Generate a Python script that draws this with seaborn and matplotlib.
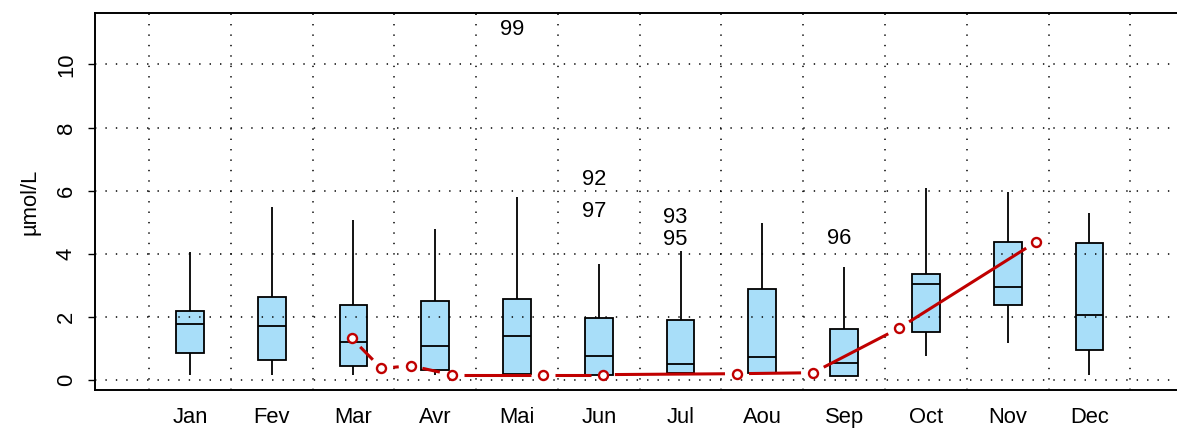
import numpy as np
import pandas as pd
import matplotlib
matplotlib.use("Agg")
import matplotlib.pyplot as plt
import seaborn as sns

# ---------------- data ----------------
months = ["Jan", "Fev", "Mar", "Avr", "Mai", "Jun", "Jul", "Aou", "Sep", "Oct", "Nov", "Dec"]
whisker_low = [0.16, 0.16, 0.16, 0.16, 0.18, 0.16, 0.21, 0.23, 0.14, 0.77, 1.17, 0.17]
q1 = [0.87, 0.64, 0.43, 0.32, 0.18, 0.16, 0.21, 0.23, 0.14, 1.52, 2.38, 0.96]
median = [1.79, 1.72, 1.20, 1.08, 1.40, 0.77, 0.50, 0.74, 0.53, 3.05, 2.96, 2.06]
q3 = [2.18, 2.64, 2.39, 2.49, 2.56, 1.95, 1.89, 2.89, 1.62, 3.37, 4.38, 4.35]
whisker_high = [4.07, 5.47, 5.07, 4.78, 5.79, 3.68, 4.09, 4.98, 3.57, 6.07, 5.96, 5.30]

outlier_month = ["Mai", "Jun", "Jun", "Jul", "Jul", "Sep"]
outlier_value = [11.10, 6.35, 5.33, 5.14, 4.44, 4.47]
outlier_label = ["99", "92", "97", "93", "95", "96"]

trend_pos = [1.98, 2.34, 2.70, 3.20, 4.32, 5.05, 6.69, 7.62, 8.67, 10.35]
trend_value = [1.32, 0.37, 0.45, 0.17, 0.17, 0.17, 0.20, 0.23, 1.64, 4.38]

y_ticks = [0, 2, 4, 6, 8, 10]
y_label = "µmol/L"

# five-number summaries as rows (whis=(0,100) reproduces them exactly)
rows = []
for m, a, b, c, d, e in zip(months, whisker_low, q1, median, q3, whisker_high):
    for v in (a, b, c, d, e):
        rows.append({"month": m, "value": v})
df = pd.DataFrame(rows)

# ---------------- style ----------------
sns.set_theme(style="white")
plt.rcParams["font.family"] = ["Liberation Sans", "DejaVu Sans"]
plt.rcParams["lines.scale_dashes"] = False

W, H = 1177, 429
fig = plt.figure(figsize=(W / 100, H / 100), dpi=100)
ax = fig.add_axes([95 / W, 1 - 390 / H, (W - 95) / W, (390 - 13) / H])

red = "#C00000"
box_fill = "#A8DEF9"

sns.boxplot(data=df, x="month", y="value", order=months, ax=ax,
            width=0.34, color=box_fill, saturation=1, whis=(0, 100),
            showcaps=False, showfliers=False, linecolor="black", linewidth=1.3)

# ticks and grid (grid drawn over the boxes, as in the reference)
ax.set_axisbelow(False)
ax.set_xticks(range(len(months)))
ax.set_xticklabels(months)
ax.set_xticks(np.arange(-0.5, 12.0, 1.0), minor=True)
ax.set_yticks(y_ticks)
ax.set_yticklabels([str(t) for t in y_ticks])

# axis limits (after ticks so they are not expanded)
ax.set_xlim(-1.16, 12.07)
ax.set_ylim(-0.317, 11.63)

dot = (0, (1.0, 6.5))
ax.grid(False)
ax.grid(True, which="minor", axis="x", color="black", linestyle=dot, linewidth=1.1)
ax.grid(True, which="major", axis="y", color="black", linestyle=dot, linewidth=1.1)

# spines
for s in ("left", "bottom", "top"):
    ax.spines[s].set_visible(True)
    ax.spines[s].set_color("black")
    ax.spines[s].set_linewidth(1.4)
ax.spines["right"].set_visible(False)

# ticks
ax.tick_params(axis="x", which="both", length=0, labelsize=15.8, pad=12.5, colors="black")
ax.tick_params(axis="y", which="major", direction="out", length=5, width=1.0,
               left=True, labelsize=15.8, pad=8, labelrotation=90, colors="black")
for lab in ax.get_yticklabels():
    lab.set_va("center")
ax.set_xlabel("")
ax.set_ylabel(y_label, fontsize=15.8, color="black")
ax.yaxis.label.set_va("center")
ax.yaxis.set_label_coords(-65 / (W - 95), 0.5)

# outlier labels
for m, v, t in zip(outlier_month, outlier_value, outlier_label):
    ax.text(months.index(m) - 0.06, v, t, ha="center", va="center",
            fontsize=15.8, color="black", zorder=4)

# red trend line, R type="b" style (gaps around points)
trans = ax.transData
inv = trans.inverted()
pts = trans.transform(np.column_stack([trend_pos, trend_value]))
gap = 12.0
for p, q in zip(pts[:-1], pts[1:]):
    d = q - p
    L = np.hypot(d[0], d[1])
    if L > 2 * gap:
        u = d / L
        a = inv.transform(p + u * gap)
        b = inv.transform(q - u * gap)
        ax.plot([a[0], b[0]], [a[1], b[1]], color=red, lw=2.2,
                solid_capstyle="butt", zorder=5)
ax.plot(trend_pos, trend_value, ls="none", marker="o", ms=6.5,
        mfc="white", mec=red, mew=1.7, zorder=6)

fig.savefig("out.png", dpi=100)
